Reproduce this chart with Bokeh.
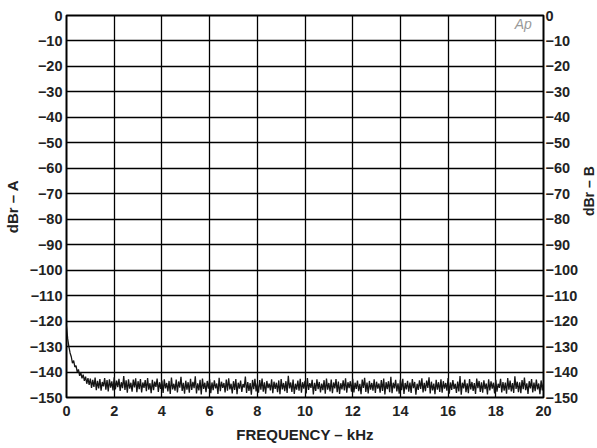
import math
from bokeh.plotting import figure
from bokeh.models import LinearAxis, FixedTicker, Label
from bokeh.layouts import row
from bokeh.core.properties import value
from bokeh.embed import file_html
from bokeh.resources import INLINE

# ---- data ----
x_ticks = [0, 2, 4, 6, 8, 10, 12, 14, 16, 18, 20]
y_ticks = [0, -10, -20, -30, -40, -50, -60, -70, -80, -90, -100, -110, -120, -130, -140, -150]
x_tick_labels = [str(v) for v in x_ticks]
y_tick_labels = ["0"] + ["\u2212" + str(-v) for v in y_ticks[1:]]
x_title = "FREQUENCY \u2013 kHz"
y_title_left = "dBr \u2013 A"
y_title_right = "dBr \u2013 B"

freq_step_khz = 0.05
level_dbr = [
    -122.0, -127.0, -130.0, -132.5, -134.0, -136.5, -135.5, -138.0, -137.5, -140.0,
    -139.0, -141.5, -140.2, -142.5, -141.0, -143.5, -141.8, -144.6, -142.4, -145.0,
    -142.6, -146.2, -143.1, -145.8, -142.2, -147.1, -143.5, -146.4, -142.8, -147.3,
    -143.9, -145.6, -142.4, -146.9, -143.2, -147.6, -142.9, -146.1, -143.7, -147.2,
    -142.1, -146.8, -143.4, -145.9, -142.7, -147.4, -144.0, -146.3, -141.6, -147.0,
    -143.3, -148.1, -142.9, -146.5, -144.2, -147.7, -143.0, -146.0, -142.5, -147.9,
    -143.6, -146.7, -142.8, -148.0, -144.1, -146.2, -143.2, -147.5, -142.4, -146.9,
    -144.4, -148.3, -143.1, -147.1, -143.8, -145.8, -142.6, -147.8, -144.0, -146.6,
    -143.3, -148.2, -142.9, -146.4, -144.3, -147.6, -143.5, -148.6, -142.2, -146.8,
    -144.6, -147.3, -143.0, -148.0, -143.7, -146.1, -141.9, -147.4, -144.2, -148.5,
    -143.4, -146.9, -144.0, -148.1, -142.7, -147.0, -143.9, -146.3, -141.7, -148.4,
    -144.4, -147.2, -143.1, -148.8, -142.6, -146.6, -144.2, -147.9, -143.5, -146.5,
    -142.9, -148.3, -144.1, -147.1, -143.3, -146.4, -144.5, -148.6, -142.3, -147.5,
    -143.8, -146.2, -144.3, -148.0, -143.0, -147.3, -142.5, -146.8, -144.6, -148.4,
    -143.6, -147.0, -142.8, -148.7, -144.2, -146.5, -143.4, -147.8, -144.7, -146.1,
    -141.8, -148.2, -143.9, -147.4, -144.3, -148.9, -143.1, -146.7, -142.7, -147.6,
    -144.4, -148.1, -143.2, -146.9, -142.6, -147.7, -144.0, -148.5, -143.5, -146.3,
    -144.5, -147.2, -142.9, -148.3, -143.8, -146.6, -144.2, -147.9, -143.3, -148.7,
    -142.8, -146.8, -144.3, -147.5, -143.6, -148.2, -141.5, -146.4, -144.1, -147.8,
    -143.0, -148.6, -144.6, -146.9, -143.4, -147.3, -142.7, -148.1, -144.0, -146.5,
    -143.5, -148.4, -142.4, -147.0, -144.4, -146.2, -143.1, -148.8, -144.2, -147.4,
    -142.9, -146.7, -143.9, -148.0, -144.5, -147.1, -143.2, -148.5, -142.6, -146.9,
    -144.3, -147.6, -143.0, -148.3, -144.1, -146.4, -142.8, -147.9, -143.7, -148.6,
    -144.4, -146.8, -143.3, -147.2, -142.5, -148.1, -144.0, -146.3, -143.6, -147.7,
    -142.7, -148.0, -144.2, -146.6, -143.4, -147.5, -144.6, -148.7, -143.0, -146.2,
    -142.3, -147.8, -144.1, -148.4, -143.5, -146.9, -144.3, -147.3, -142.9, -148.2,
    -143.8, -146.5, -144.5, -148.1, -143.2, -147.4, -142.6, -148.8, -144.0, -146.7,
    -143.6, -147.9, -141.9, -148.3, -144.2, -146.4, -143.1, -147.6, -144.4, -148.5,
    -143.0, -147.1, -142.7, -148.6, -144.3, -146.8, -143.5, -147.7, -144.1, -148.2,
    -142.8, -146.3, -143.9, -148.9, -144.6, -147.0, -143.3, -146.6, -142.5, -148.0,
    -144.2, -147.5, -143.4, -146.2, -142.1, -148.4, -143.8, -147.2, -144.5, -148.7,
    -143.1, -146.9, -144.0, -147.8, -142.9, -148.1, -143.6, -146.5, -144.3, -147.3,
    -142.4, -148.5, -144.1, -147.0, -143.2, -146.6, -144.6, -148.2, -143.7, -147.6,
    -141.6, -148.9, -144.2, -146.4, -143.0, -147.9, -144.4, -148.3, -142.8, -146.8,
    -143.9, -147.4, -144.3, -148.6, -142.6, -146.3, -143.5, -147.8, -144.0, -148.1,
    -143.3, -146.7, -144.5, -148.8, -142.9, -147.2, -143.7, -146.5, -144.2, -148.4,
    -143.1, -147.7, -144.6, -146.2, -142.7, -148.0, -143.9, -147.3, -144.1, -148.5,
    -142.4, -146.9, -143.4, -147.6, -144.3, -148.2, -141.7, -146.6, -143.8, -147.9,
    -144.0, -148.3, -143.2, -146.7, -142.2, -147.1, -144.4, -148.6, -143.6, -146.4,
    -142.8, -148.0, -144.1, -147.5, -143.0, -146.8, -144.5, -148.7, -143.3, -147.2,
    -144.0,
]
freq_khz = [i * freq_step_khz for i in range(len(level_dbr))]

# ---- main figure ----
FONT = "Liberation Sans"
TICK_FS = "14.5px"
TITLE_FS = "15px"
INK = "#222222"
p = figure(width=581, height=448, output_backend="svg", toolbar_location=None,
           x_range=(0, 20), y_range=(-150, 0),
           min_border_left=64, min_border_right=37, min_border_top=15, min_border_bottom=51)
p.background_fill_color = "white"
p.border_fill_color = "white"
p.outline_line_color = "black"
p.outline_line_width = 2

p.line(freq_khz, level_dbr, line_color="#151515", line_width=1.3)

p.xgrid.ticker = FixedTicker(ticks=x_ticks)
p.ygrid.ticker = FixedTicker(ticks=y_ticks)
for g in (p.xgrid, p.ygrid):
    g.grid_line_color = "black"
    g.grid_line_width = 1.3
    g.grid_line_alpha = 1.0

def style_axis(ax, ticks, labels, label_standoff):
    ax.ticker = FixedTicker(ticks=ticks)
    ax.major_label_overrides = {t: l for t, l in zip(ticks, labels)}
    ax.major_tick_line_color = None
    ax.minor_tick_line_color = None
    ax.major_tick_out = 0
    ax.major_tick_in = 0
    ax.minor_tick_out = 0
    ax.minor_tick_in = 0
    ax.axis_line_color = None
    ax.major_label_text_font = FONT
    ax.major_label_text_font_style = "bold"
    ax.major_label_text_font_size = TICK_FS
    ax.major_label_text_color = INK
    ax.major_label_standoff = label_standoff

def style_title(ax, text, standoff):
    ax.axis_label = text
    ax.axis_label_text_font = FONT
    ax.axis_label_text_font_style = "bold"
    ax.axis_label_text_font_size = TITLE_FS
    ax.axis_label_text_color = INK
    ax.axis_label_standoff = standoff

style_axis(p.xaxis[0], x_ticks, x_tick_labels, 8)
style_title(p.xaxis[0], x_title, 7)
style_axis(p.yaxis[0], y_ticks, y_tick_labels, 4)
style_title(p.yaxis[0], y_title_left, 6)

right_axis = LinearAxis()
p.add_layout(right_axis, "right")
style_axis(right_axis, y_ticks, y_tick_labels, 2)

p.add_layout(Label(x=19.15, y=-3.5, text="Ap", text_align="center", text_baseline="middle",
                   text_font=FONT, text_font_style="italic",
                   text_font_size="14px", text_color="#9a9a9a"))

# ---- narrow strip carrying the right-hand axis title (reads bottom to top) ----
q = figure(width=16, height=448, output_backend="svg", toolbar_location=None,
           x_range=(0, 16), y_range=(0, 448), x_axis_type=None, y_axis_type=None,
           min_border_left=0, min_border_right=0, min_border_top=0, min_border_bottom=0)
q.outline_line_color = None
q.grid.visible = False
q.background_fill_color = "white"
q.border_fill_color = "white"
q.text(x=[7.5], y=[448 - 206], text=[y_title_right], angle=math.pi / 2,
       text_align="center", text_baseline="middle",
       text_font=value(FONT), text_font_style="bold", text_font_size="14px",
       text_color=INK)

layout = row(p, q, spacing=0)
open("out.html", "w").write(file_html(layout, INLINE))
